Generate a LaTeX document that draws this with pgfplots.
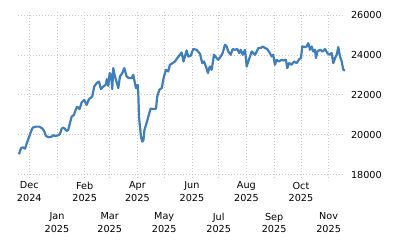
\documentclass[border=0pt]{standalone}
\usepackage{pgfplots}
\pgfplotsset{compat=1.18}
\usepackage{fontspec}
\setmainfont{DejaVu Sans}
\definecolor{linec}{RGB}{62,126,187}
\definecolor{gridc}{RGB}{200,200,200}
\begin{document}
\begin{tikzpicture}
\useasboundingbox (-18bp,-75.3bp) rectangle (382bp,174.7bp);
\begin{axis}[
  at={(0,0)}, anchor=south west,
  scale only axis, width=327bp, height=159.7bp,
  xmin=-12.6, xmax=353.3, ymin=18000, ymax=26000,
  axis line style={draw=none},
  ytick={18000,20000,22000,24000,26000},
  yticklabel pos=right,
  yticklabel style={anchor=west, xshift=-0.5bp},
  scaled y ticks=false,
  yticklabel={\pgfmathprintnumber[fixed,precision=0,1000 sep={}]{\tick}},
  /pgf/number format/assume math mode=true,
  xtick={0,62,121,182,243,304},
  xticklabels={Dec\\2024,Feb\\2025,Apr\\2025,Jun\\2025,Aug\\2025,Oct\\2025},
  extra x ticks={31,90,151,212,274,335},
  extra x tick labels={Jan\\2025,Mar\\2025,May\\2025,Jul\\2025,Sep\\2025,Nov\\2025},
  extra x tick style={tick label style={yshift=-31bp}, grid=major},
  xticklabel style={align=center, font=\fontsize{9.7}{12.7}\selectfont, inner sep=0pt, yshift=-4bp},
  yticklabel style={font=\fontsize{9.7}{12.7}\selectfont},
  grid=major,
  major grid style={gridc, line width=0.8bp, dash pattern=on 1bp off 2bp},
  major tick length=3bp, tick align=outside,
  xtick style={gridc, line width=0.8bp, dash pattern=on 1bp off 2bp},
  ytick style={draw=none},
]
\addplot[linec, line width=2.2bp, line join=round] coordinates {
(-11.5,19024) (-9.3,19325) (-7.4,19375) (-4.8,19305) (-3.7,19440) (-2.2,19656)
(0,19907) (1.9,20158) (3.8,20359) (7.5,20409) (11.2,20409) (14.2,20329)
(16.4,20208) (18.7,19942) (21.3,19877) (25.1,19907) (26.9,19977) (28.8,19942)
(30.7,19957) (32.5,19977) (34.4,20043) (36.3,20309) (38.0,20359) (39.9,20294)
(41.9,20193) (43.6,20243) (45.5,20580) (47.4,20911) (50.0,20996) (51.9,21247)
(53.4,21398) (55.1,21348) (56.2,21282) (58.6,21614) (61.5,21749) (64.2,21498)
(66.8,21784) (70.5,21915) (72.7,22417) (75.4,22587) (78.0,22668) (80.2,22286)
(82.8,22417) (85.5,22502) (86.9,22788) (88.4,22452) (90.0,23089) (91.4,23004)
(92.9,22286) (94.0,23340) (95.9,22919) (98.1,22587) (99.6,22336) (101.5,22919)
(104.1,23089) (106.3,23340) (109.0,22919) (111.6,22838) (114.6,22838) (116.4,23004)
(117.5,22753) (119.4,22336) (121.3,22502) (122.0,22085) (122.8,20911) (125.0,19907)
(126.4,19656) (127.8,19740) (128.9,20243) (131.4,20610) (134.3,21081) (135.8,21313)
(138.8,21283) (141.8,21313) (143.2,21915) (145.5,22251) (148.2,22336) (150.7,22919)
(153.0,23255) (155.5,23170) (157.4,23506) (160.5,23591) (163.0,23672) (165.6,23842)
(168.6,24008) (170.5,24123) (172.6,23672) (176.1,24224) (177.9,23922) (180.6,23957)
(183.5,24294) (187.3,24259) (191.0,24058) (193.6,23591) (195.5,23672) (197.7,23421)
(200.0,23089) (201.4,23340) (202.2,23421) (204.1,23255) (206.7,24008) (209.7,23842)
(211.5,23757) (214.2,23922) (216.4,24093) (219.0,24510) (220.9,24424) (222.7,24173)
(225.4,24008) (227.6,24294) (230.2,24259) (232.8,24294) (235.0,24093) (236.6,24259)
(238.8,24008) (241.4,24259) (243.3,23421) (245.1,23672) (247.0,23922) (248.9,24173)
(250.7,24093) (252.6,24008) (254.5,24173) (256.3,24344) (258.9,24344) (261.2,24424)
(263.8,24344) (266.3,24294) (269.3,24093) (271.2,23922) (273.0,24008) (274.9,23506)
(276.8,23757) (279.4,23672) (282.4,23757) (284.2,23722) (287.2,23757) (288.7,23340)
(290.9,23591) (293.6,23506) (296.2,23672) (299.2,23591) (302.1,23792) (304.0,23842)
(305.5,24424) (308.5,24394) (310.4,24424) (312.2,24594) (314.1,24259) (316.0,24424)
(317.8,24173) (319.7,24259) (320.8,23842) (322.3,24173) (325.3,24259) (328.3,24173)
(330.9,24294) (333.5,24093) (335.7,24008) (338.4,24093) (340.2,23591) (342.1,23842)
(344.0,24008) (345.8,24394) (347.7,23922) (349.6,23672) (351.4,23255) (353.3,23220)
};
\end{axis}
\end{tikzpicture}
\end{document}
